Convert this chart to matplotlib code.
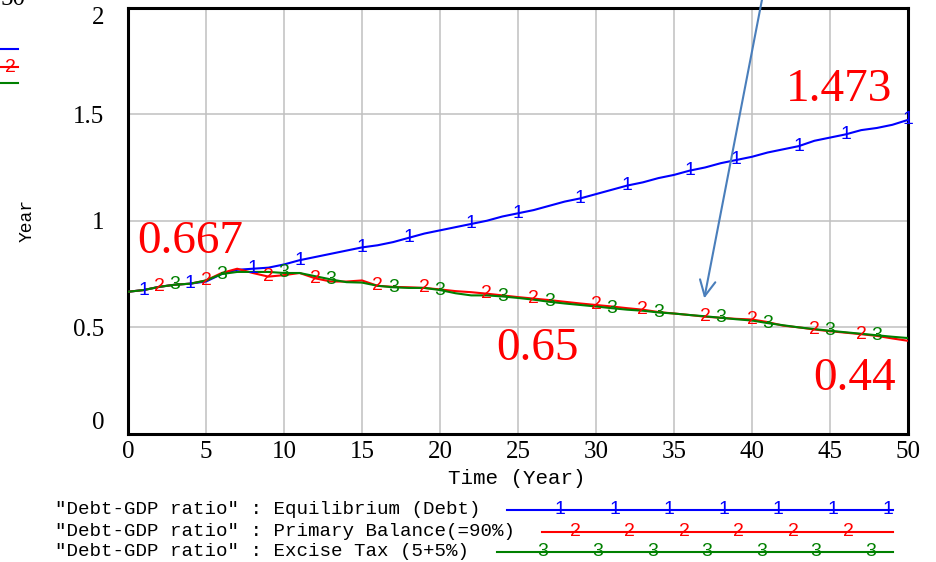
import numpy as np
import matplotlib
matplotlib.use("Agg")
import matplotlib.pyplot as plt
from matplotlib.lines import Line2D

# data (Debt-GDP ratio, yearly)
years = np.arange(0, 51)
equilibrium = [0.667, 0.675, 0.69, 0.70, 0.705, 0.715, 0.75, 0.77, 0.775, 0.78,
               0.795, 0.815, 0.83, 0.845, 0.86, 0.875, 0.885, 0.90, 0.92, 0.94,
               0.955, 0.97, 0.985, 1.00, 1.02, 1.035, 1.05, 1.07, 1.09, 1.105,
               1.125, 1.145, 1.165, 1.18, 1.20, 1.215, 1.235, 1.25, 1.27, 1.285,
               1.30, 1.32, 1.335, 1.35, 1.375, 1.39, 1.405, 1.425, 1.435, 1.45,
               1.473]
primary_balance = [0.667, 0.675, 0.69, 0.70, 0.705, 0.72, 0.755, 0.775, 0.755, 0.738,
                   0.745, 0.755, 0.73, 0.715, 0.715, 0.72, 0.695, 0.69, 0.688, 0.685,
                   0.678, 0.67, 0.665, 0.658, 0.65, 0.642, 0.635, 0.628, 0.62, 0.612,
                   0.605, 0.598, 0.59, 0.583, 0.572, 0.565, 0.558, 0.55, 0.545, 0.54,
                   0.537, 0.525, 0.508, 0.50, 0.49, 0.482, 0.475, 0.468, 0.46, 0.448,
                   0.437]
excise_tax = [0.667, 0.675, 0.69, 0.70, 0.705, 0.72, 0.75, 0.76, 0.76, 0.76,
              0.755, 0.755, 0.74, 0.725, 0.712, 0.71, 0.695, 0.688, 0.685, 0.685,
              0.675, 0.66, 0.65, 0.65, 0.645, 0.638, 0.63, 0.62, 0.612, 0.605,
              0.598, 0.59, 0.583, 0.578, 0.57, 0.565, 0.558, 0.552, 0.545, 0.538,
              0.532, 0.52, 0.51, 0.50, 0.492, 0.484, 0.477, 0.47, 0.463, 0.456,
              0.45]

# years where Vensim puts the series number on each line
marks_1 = [1, 4, 8, 11, 15, 18, 22, 25, 29, 32, 36, 39, 43, 46, 50]
marks_2 = [2, 5, 9, 12, 16, 19, 23, 26, 30, 33, 37, 40, 44, 47]
marks_3 = [3, 6, 10, 13, 17, 20, 24, 27, 31, 34, 38, 41, 45, 48]

legend_labels = ['"Debt-GDP ratio" : Equilibrium (Debt)',
                 '"Debt-GDP ratio" : Primary Balance(=90%)',
                 '"Debt-GDP ratio" : Excise Tax (5+5%)']

# callouts: (text, year, value)
callouts = [("0.667", 0.6, 0.85), ("1.473", 42.2, 1.561),
            ("0.65", 23.6, 0.346), ("0.44", 43.9, 0.206)]

x_ticks = [0, 5, 10, 15, 20, 25, 30, 35, 40, 45, 50]
y_ticks = [0, 0.5, 1, 1.5, 2]
y_tick_labels = ["0", "0.5", "1", "1.5", "2"]

W, H = 936, 562
fig = plt.figure(figsize=(W / 100, H / 100), dpi=100)
ax = fig.add_axes([128 / W, 1 - 434 / H, 780 / W, 426.5 / H])

series = [(equilibrium, marks_1, "1", "#0000ff"),
          (primary_balance, marks_2, "2", "#ff0000"),
          (excise_tax, marks_3, "3", "#008000")]

for vals, marks, num, col in series:
    ax.plot(years, vals, color=col, lw=1.5, zorder=3)
    for m in marks:
        ax.text(m, vals[m], num, color=col, fontsize=14, family="Liberation Sans",
                ha="center", va="center", zorder=4)

ax.set_xlim(0, 50)
ax.set_ylim(0, 2)
ax.set_xticks(x_ticks)
ax.set_yticks(y_ticks)
ax.set_yticklabels(y_tick_labels)
ax.grid(True, color="#c0c0c0", lw=1.1)
ax.set_axisbelow(True)
for s in ax.spines.values():
    s.set_linewidth(2.2)
ax.tick_params(length=0, labelsize=18)
ax.tick_params(axis="y", pad=17)
ax.tick_params(axis="x", pad=5)
for lbl in ax.get_xticklabels() + ax.get_yticklabels():
    lbl.set_family("Liberation Serif")
ylbls = ax.get_yticklabels()
ylbls[0].set_va("bottom")
ylbls[-1].set_va("top")

for txt, t, v in callouts:
    ax.text(t, v, txt, color="#ff0000", fontsize=34, family="Liberation Serif",
            ha="left", va="baseline", zorder=5)

# the arrow coming in from above the chart
ax.annotate("", xy=(36.94, 0.636), xytext=(41.0, 2.173),
            arrowprops=dict(arrowstyle="->", color="#4a7ebb", lw=1.5,
                            mutation_scale=28, shrinkA=0, shrinkB=0),
            annotation_clip=False, zorder=6)

# axis titles
fig.text(517 / W, 1 - 478 / H, "Time (Year)", family="Liberation Mono",
         fontsize=15, ha="center", va="center")
fig.text(27 / W, 1 - 221 / H, "Year", family="Liberation Mono",
         fontsize=13, rotation=90, ha="center", va="center")

# legend at the bottom
rows_y = [510, 532, 552]
line_start = [507, 542, 497]
first_mark = [560, 575, 543]
for (vals, marks, num, col), lab, ry, x0, fm in zip(series, legend_labels, rows_y,
                                                    line_start, first_mark):
    fy = 1 - ry / H
    fig.text(55 / W, fy, lab, family="Liberation Mono", fontsize=13.8,
             ha="left", va="center")
    fig.add_artist(Line2D([x0 / W, 893 / W], [fy, fy], color=col, lw=1.5))
    px = fm
    while px <= 893:
        fig.text(px / W, fy, num, color=col, fontsize=14, family="Liberation Sans",
                 ha="center", va="center")
        px += 54.6

# cropped bits of a neighbouring chart on the left edge
fig.text(25 / W, 1 - 5 / H, "50", family="Liberation Serif", fontsize=18,
         ha="right", va="baseline")
for fy, col in zip([49, 67, 83], ["#0000ff", "#ff0000", "#008000"]):
    fig.add_artist(Line2D([0, 18 / W], [1 - fy / H, 1 - fy / H], color=col, lw=1.5))
fig.text(10 / W, 1 - 67 / H, "2", color="#ff0000", fontsize=14,
         family="Liberation Sans", ha="center", va="center")

fig.savefig("out.png", dpi=100)
